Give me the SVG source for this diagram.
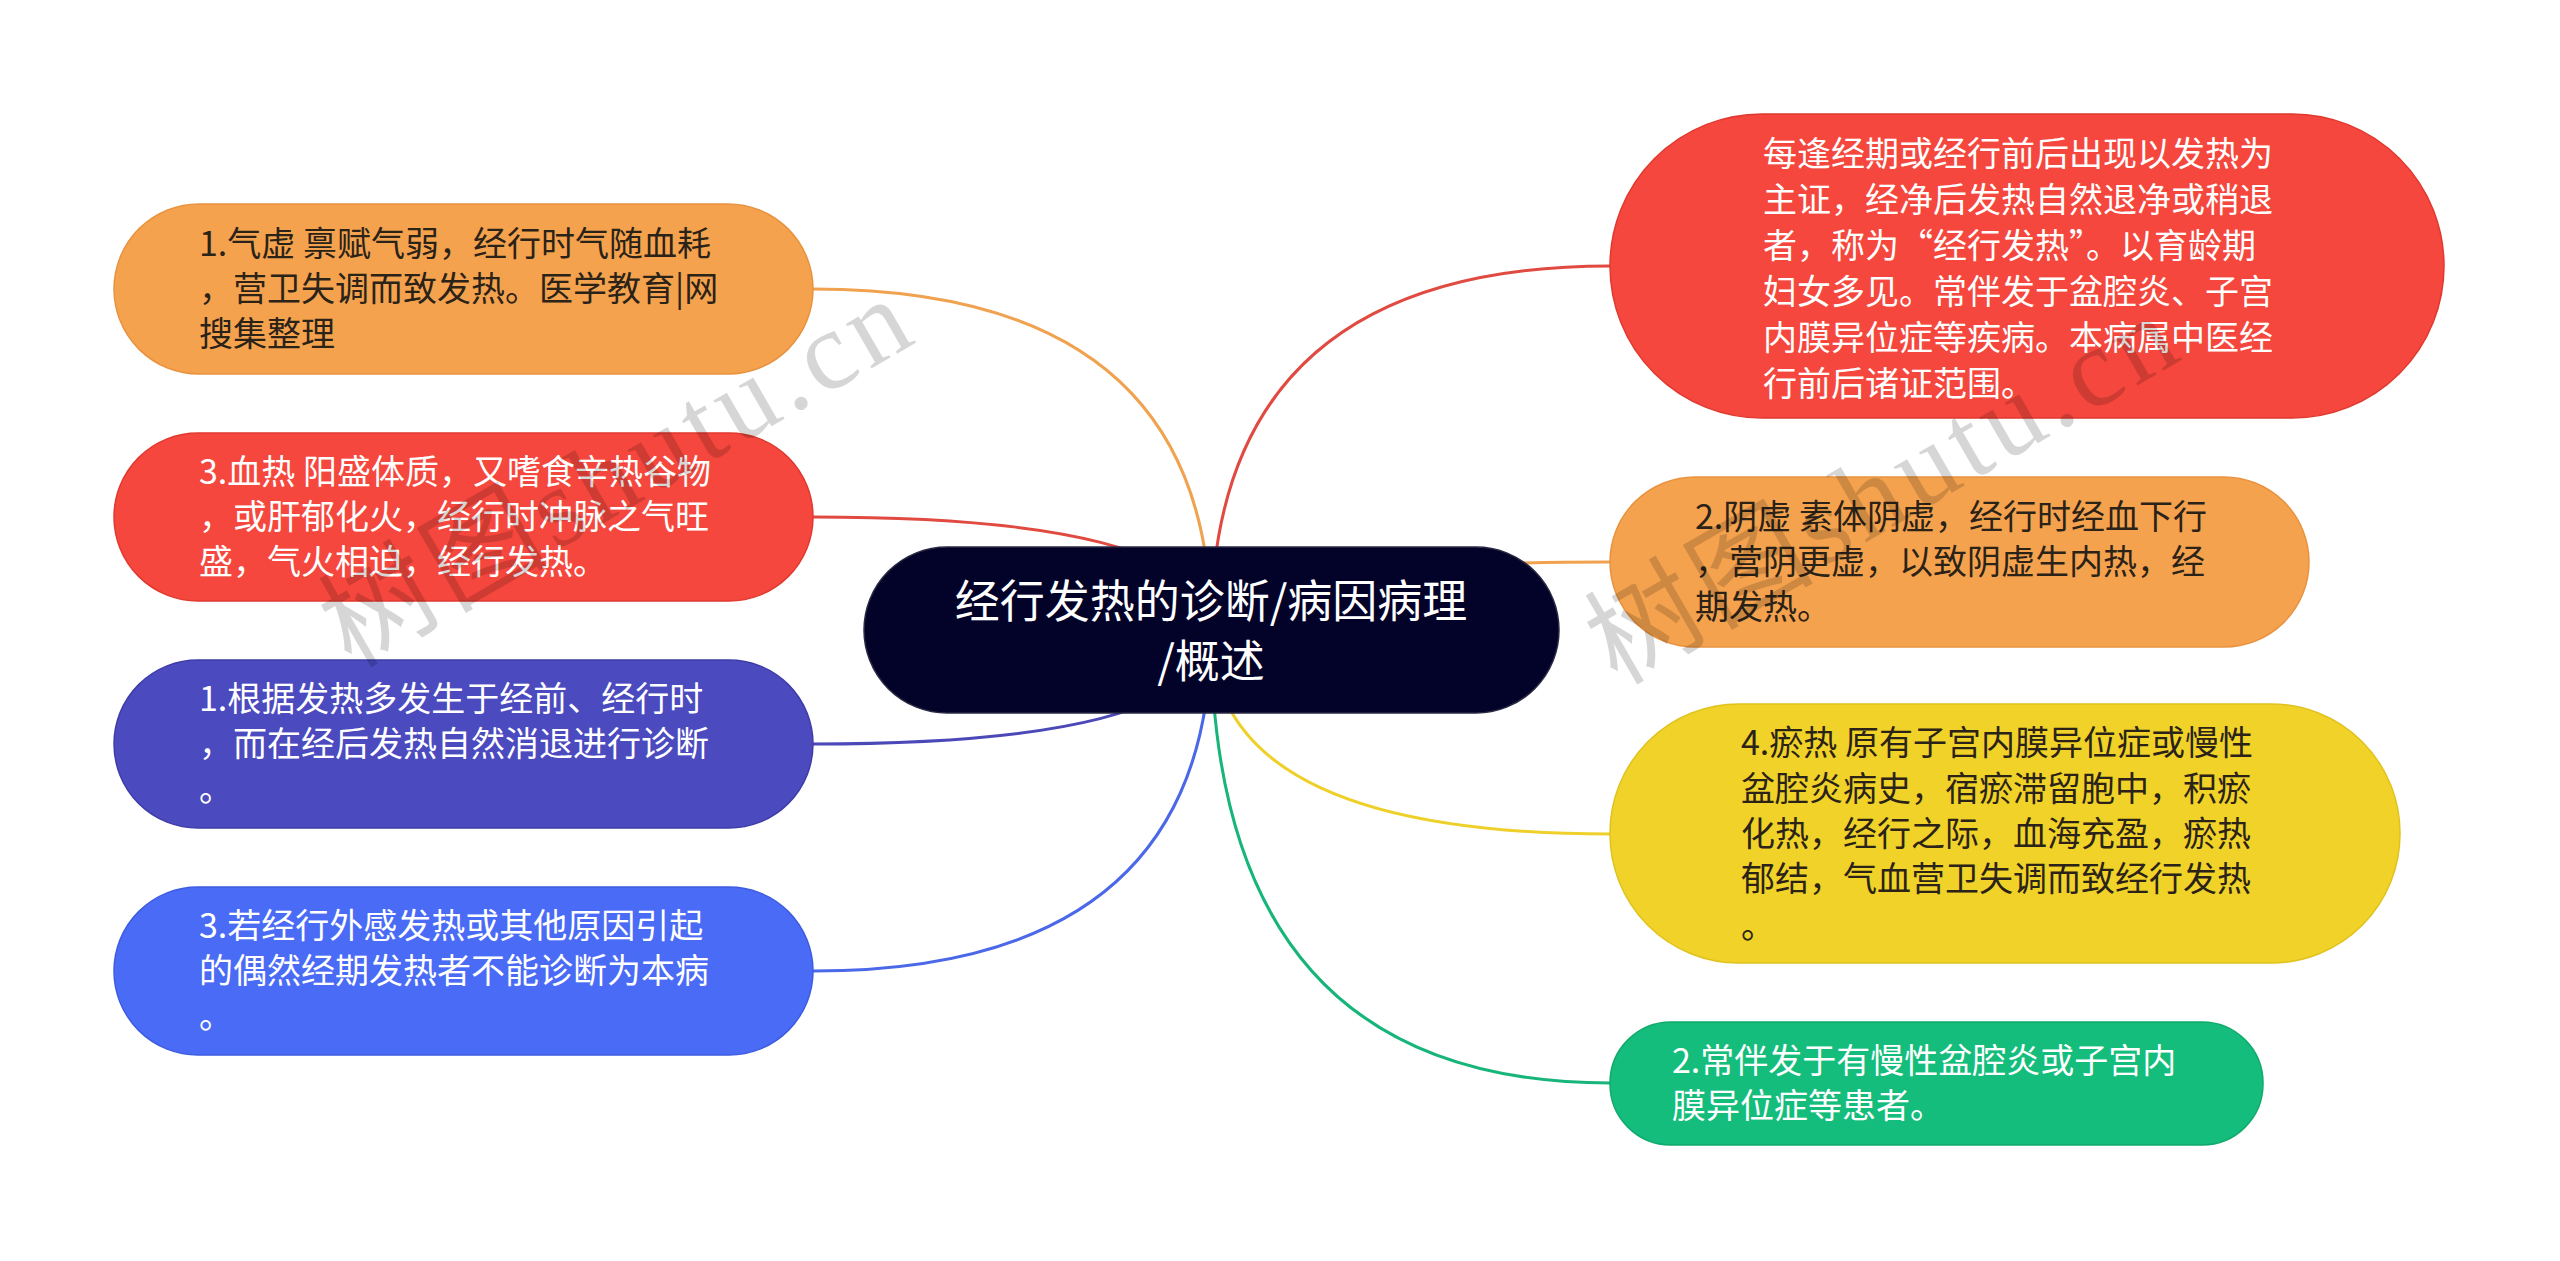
<svg xmlns="http://www.w3.org/2000/svg" width="2560" height="1261" viewBox="0 0 2560 1261">
<style>
.t{font-family:"Noto Sans CJK SC","Microsoft YaHei",sans-serif;font-size:34px}
.d{fill:#2b2218}
.w{fill:#ffffff}
.c{font-family:"Noto Sans CJK SC",sans-serif;font-size:45px;fill:#ffffff}
.ln{fill:none;stroke-width:3}
.wm{font-family:"Liberation Serif","Noto Sans CJK SC",serif;font-size:112px;fill:#000;fill-opacity:0.16}
</style>
<rect width="2560" height="1261" fill="#ffffff"/>
<g id="connectors">
<path class="ln" stroke="#F0A24F" d="M1211 630 Q1211 289 813 289"/>
<path class="ln" stroke="#E04A40" d="M1211 630 Q1211 517 813 517"/>
<path class="ln" stroke="#4B48B8" d="M1211 630 Q1211 744 813 744"/>
<path class="ln" stroke="#4A68E8" d="M1211 630 Q1211 971 813 971"/>
<path class="ln" stroke="#E04A40" d="M1211 630 Q1211 266 1610 266"/>
<path class="ln" stroke="#F0A24F" d="M1211 630 Q1211 562 1610 562"/>
<path class="ln" stroke="#EFD02A" d="M1211 630 Q1211 834 1610 834"/>
<path class="ln" stroke="#17B57A" d="M1211 630 Q1211 1083 1610 1083"/>
</g>
<g id="center">
<rect x="864" y="547" width="695" height="166" rx="83" fill="#03032A" stroke="#2a2a44" stroke-width="1.5"/>
<text class="c" text-anchor="middle"><tspan x="1211" y="618">经行发热的诊断/病因病理</tspan><tspan x="1211" y="678">/概述</tspan></text>
</g>
<g id="n1">
<rect x="114" y="204" width="699" height="170" rx="85" fill="#F5A24E" stroke="#E8923F" stroke-width="1.5"/>
<text class="t d"><tspan x="199" y="256">1.气虚 禀赋气弱，经行时气随血耗</tspan><tspan x="199" y="301">，营卫失调而致发热。医学教育|网</tspan><tspan x="199" y="346">搜集整理</tspan></text>
</g>
<g id="n2">
<rect x="114" y="433" width="699" height="168" rx="84" fill="#F5473D" stroke="#E0392F" stroke-width="1.5"/>
<text class="t w"><tspan x="199" y="484">3.血热 阳盛体质，又嗜食辛热谷物</tspan><tspan x="199" y="529">，或肝郁化火，经行时冲脉之气旺</tspan><tspan x="199" y="574">盛，气火相迫，经行发热。</tspan></text>
</g>
<g id="n3">
<rect x="114" y="660" width="699" height="168" rx="84" fill="#4B4ABF" stroke="#3E3DA8" stroke-width="1.5"/>
<text class="t w"><tspan x="199" y="711">1.根据发热多发生于经前、经行时</tspan><tspan x="199" y="756">，而在经后发热自然消退进行诊断</tspan><tspan x="199" y="801">。</tspan></text>
</g>
<g id="n4">
<rect x="114" y="887" width="699" height="168" rx="84" fill="#4A6BF6" stroke="#3D5CE0" stroke-width="1.5"/>
<text class="t w"><tspan x="199" y="938">3.若经行外感发热或其他原因引起</tspan><tspan x="199" y="983">的偶然经期发热者不能诊断为本病</tspan><tspan x="199" y="1028">。</tspan></text>
</g>
<g id="r1">
<rect x="1610" y="114" width="834" height="304" rx="152" fill="#F5473D" stroke="#E0392F" stroke-width="1.5"/>
<text class="t w"><tspan x="1763" y="166">每逢经期或经行前后出现以发热为</tspan><tspan x="1763" y="212">主证，经净后发热自然退净或稍退</tspan><tspan x="1763" y="258">者，称为“经行发热”。以育龄期</tspan><tspan x="1763" y="304">妇女多见。常伴发于盆腔炎、子宫</tspan><tspan x="1763" y="350">内膜异位症等疾病。本病属中医经</tspan><tspan x="1763" y="396">行前后诸证范围。</tspan></text>
</g>
<g id="r2">
<rect x="1610" y="477" width="699" height="170" rx="85" fill="#F5A24E" stroke="#E8923F" stroke-width="1.5"/>
<text class="t d"><tspan x="1695" y="529">2.阴虚 素体阴虚，经行时经血下行</tspan><tspan x="1695" y="574">，营阴更虚，以致阴虚生内热，经</tspan><tspan x="1695" y="619">期发热。</tspan></text>
</g>
<g id="r3">
<rect x="1610" y="704" width="790" height="259" rx="129" fill="#F0D228" stroke="#E0C21E" stroke-width="1.5"/>
<text class="t d"><tspan x="1741" y="755">4.瘀热 原有子宫内膜异位症或慢性</tspan><tspan x="1741" y="801">盆腔炎病史，宿瘀滞留胞中，积瘀</tspan><tspan x="1741" y="846">化热，经行之际，血海充盈，瘀热</tspan><tspan x="1741" y="891">郁结，气血营卫失调而致经行发热</tspan><tspan x="1741" y="938">。</tspan></text>
</g>
<g id="r4">
<rect x="1610" y="1022" width="653" height="123" rx="61" fill="#14BD7B" stroke="#0FAA6C" stroke-width="1.5"/>
<text class="t w"><tspan x="1672" y="1073">2.常伴发于有慢性盆腔炎或子宫内</tspan><tspan x="1672" y="1118">膜异位症等患者。</tspan></text>
</g>
<g id="watermark">
<text class="wm" transform="translate(351 669) rotate(-30)" letter-spacing="6">树图shutu.cn</text>
<text class="wm" transform="translate(1617 686) rotate(-30)" letter-spacing="6">树图shutu.cn</text>
</g>
</svg>
